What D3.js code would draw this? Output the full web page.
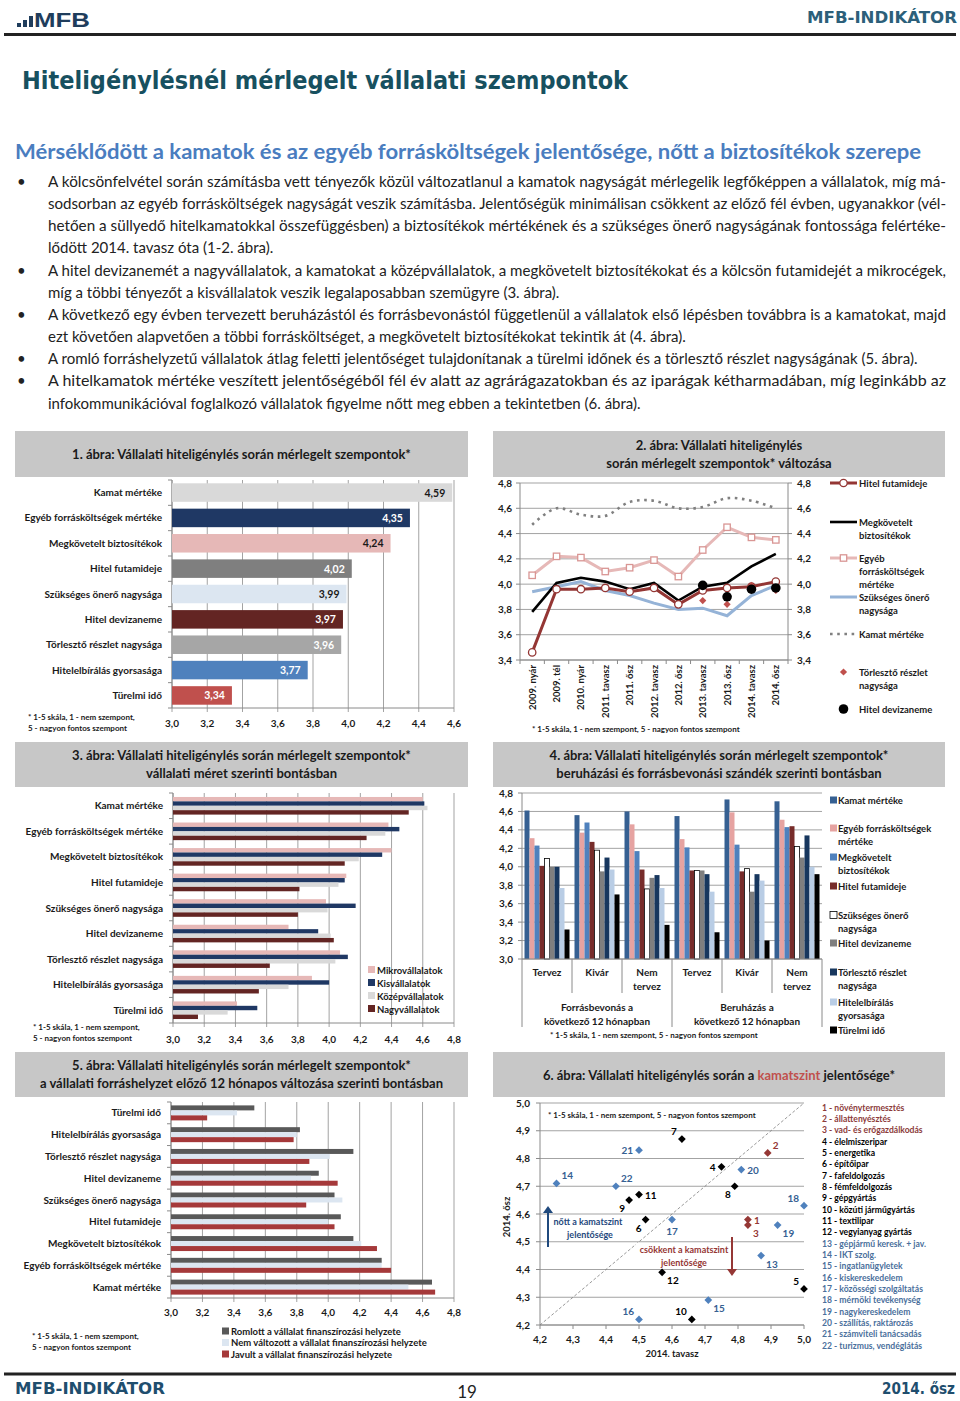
<!DOCTYPE html>
<html><head><meta charset="utf-8">
<script src="https://cdn.jsdelivr.net/npm/d3@7"></script>
<style>body{margin:0;background:#fff}svg{display:block}</style>
</head><body>
<svg id="page" width="960" height="1401"></svg>
<script>
// ---------------- DATA ----------------
const bodyLines = [
 {t:"A kölcsönfelvétel során számításba vett tényezők közül változatlanul a kamatok nagyságát mérlegelik legfőképpen a vállalatok, míg má-", bullet:true, justify:true},
 {t:"sodsorban az egyéb forrásköltségek nagyságát veszik számításba. Jelentőségük minimálisan csökkent az előző fél évben, ugyanakkor (vél-", justify:true},
 {t:"hetően a süllyedő hitelkamatokkal összefüggésben) a biztosítékok mértékének és a szükséges önerő nagyságának fontossága felértéke-", justify:true},
 {t:"lődött 2014. tavasz óta (1-2. ábra)."},
 {t:"A hitel devizanemét a nagyvállalatok, a kamatokat a középvállalatok, a megkövetelt biztosítékokat és a kölcsön futamidejét a mikrocégek,", bullet:true, justify:true},
 {t:"míg a többi tényezőt a kisvállalatok veszik legalaposabban szemügyre (3. ábra)."},
 {t:"A következő egy évben tervezett beruházástól és forrásbevonástól függetlenül a vállalatok első lépésben továbbra is a kamatokat, majd", bullet:true, justify:true},
 {t:"ezt követően alapvetően a többi forrásköltséget, a megkövetelt biztosítékokat tekintik át (4. ábra)."},
 {t:"A romló forráshelyzetű vállalatok átlag feletti jelentőséget tulajdonítanak a türelmi időnek és a törlesztő részlet nagyságának (5. ábra).", bullet:true},
 {t:"A hitelkamatok mértéke veszített jelentőségéből fél év alatt az agrárágazatokban és az iparágak kétharmadában, míg leginkább az", bullet:true, justify:true},
 {t:"infokommunikációval foglalkozó vállalatok figyelme nőtt meg ebben a tekintetben (6. ábra)."}
];

// Chart 1
const factors1 = ["Kamat mértéke","Egyéb forrásköltségek mértéke","Megkövetelt biztosítékok","Hitel futamideje","Szükséges önerő nagysága","Hitel devizaneme","Törlesztő részlet nagysága","Hitelelbírálás gyorsasága","Türelmi idő"];
const values1 = [4.59,4.35,4.24,4.02,3.99,3.97,3.96,3.77,3.34];
const ticks1 = [3.0,3.2,3.4,3.6,3.8,4.0,4.2,4.4,4.6];

// Chart 2
const periods2 = ["2009. nyár","2009. tél","2010. nyár","2011. tavasz","2011. ősz","2012. tavasz","2012. ősz","2013. tavasz","2013. ősz","2014. tavasz","2014. ősz"];
const futamideje2 = [3.46,3.96,3.96,3.97,3.94,3.97,3.84,3.95,3.97,3.98,4.02];
const biztositek2 = [3.78,4.01,4.05,4.02,3.96,4.01,3.87,3.98,4.01,4.14,4.24];
const egyeb2 = [4.07,4.22,4.21,4.10,4.13,4.19,4.06,4.27,4.45,4.37,4.35];
const onero2 = [3.94,3.98,4.02,3.95,3.91,3.85,3.80,3.81,3.75,3.91,3.99];
const kamat2 = [4.47,4.60,4.55,4.54,4.65,4.66,4.60,4.61,4.68,4.66,4.60];
const torleszto2 = [null,null,null,null,null,null,null,3.87,3.84,3.99,3.95];
const deviza2 = [null,null,null,null,null,null,null,3.99,3.90,3.96,3.97];
const ticks2 = [3.4,3.6,3.8,4.0,4.2,4.4,4.6,4.8];

// Chart 3
const series3 = ["Mikrovállalatok","Kisvállalatok","Középvállalatok","Nagyvállalatok"];
const mikro3 = [4.60,4.38,4.40,4.11,3.98,3.74,4.07,3.89,3.41];
const kis3 = [4.61,4.45,4.34,4.10,4.17,3.93,4.12,4.00,3.54];
const kozep3 = [4.63,4.36,4.19,4.06,3.99,4.01,4.04,3.74,3.35];
const nagy3 = [4.51,4.24,4.10,3.81,3.80,4.03,3.62,3.55,3.16];
const ticks3 = [3.0,3.2,3.4,3.6,3.8,4.0,4.2,4.4,4.6,4.8];

// Chart 4
const groups4 = ["Tervez","Kivár","Nem tervez","Tervez","Kivár","Nem tervez"];
const supergroups4 = ["Forrásbevonás a|következő 12 hónapban","Beruházás a|következő 12 hónapban"];
const kamat4 = [4.61,4.56,4.60,4.55,4.73,4.71];
const egyeb4 = [4.31,4.37,4.46,4.30,4.59,4.51];
const biztositek4 = [4.23,4.48,4.17,4.21,4.24,4.43];
const futamideje4 = [4.01,4.27,3.97,3.96,3.95,4.44];
const onero4 = [4.09,4.18,3.76,3.96,3.98,4.22];
const deviza4 = [4.00,3.95,3.88,3.96,3.73,4.10];
const torleszto4 = [4.00,4.10,3.91,3.92,3.92,4.34];
const hitelelb4 = [3.77,3.97,3.77,3.73,3.85,4.00];
const turelmi4 = [3.32,3.70,3.37,3.29,3.20,3.92];
const legend4 = ["Kamat mértéke","Egyéb forrásköltségek|mértéke","Megkövetelt|biztosítékok","Hitel futamideje","Szükséges önerő|nagysága","Hitel devizaneme","Törlesztő részlet|nagysága","Hitelelbírálás|gyorsasága","Türelmi idő"];
const ticks4 = [3.0,3.2,3.4,3.6,3.8,4.0,4.2,4.4,4.6,4.8];

// Chart 5
const factors5 = ["Türelmi idő","Hitelelbírálás gyorsasága","Törlesztő részlet nagysága","Hitel devizaneme","Szükséges önerő nagysága","Hitel futamideje","Megkövetelt biztosítékok","Egyéb forrásköltségek mértéke","Kamat mértéke"];
const series5 = ["Romlott a vállalat finanszírozási helyzete","Nem változott a vállalat finanszírozási helyzete","Javult a vállalat finanszírozási helyzete"];
const romlott5 = [3.53,3.82,4.16,3.94,4.04,4.08,4.16,4.34,4.66];
const nemvalt5 = [3.42,3.80,4.01,3.89,4.09,4.00,4.21,4.34,4.51];
const javult5 = [3.23,3.78,3.88,4.06,3.86,4.04,4.31,4.40,4.68];
const ticks5 = [3.0,3.2,3.4,3.6,3.8,4.0,4.2,4.4,4.6,4.8];

// Chart 6
const sectors6 = ["növénytermesztés","állattenyésztés","vad- és erőgazdálkodás","élelmiszeripar","energetika","építőipar","fafeldolgozás","fémfeldolgozás","gépgyártás","közúti járműgyártás","textilipar","vegyianyag gyártás","gépjármű keresk. + jav.","IKT szolg.","ingatlanügyletek","kiskereskedelem","közösségi szolgáltatás","mérnöki tevékenység","nagykereskedelem","szállítás, raktározás","számviteli tanácsadás","turizmus, vendéglátás"];
const sectorGroup6 = ["agrar","agrar","agrar","ipar","ipar","ipar","ipar","ipar","ipar","ipar","ipar","ipar","szolg","szolg","szolg","szolg","szolg","szolg","szolg","szolg","szolg","szolg"];
const spring6 = [4.83,4.89,4.83,4.75,5.00,4.52,4.63,4.79,4.47,4.66,4.50,4.57,4.87,4.25,4.71,4.50,4.60,5.00,4.92,4.81,4.50,4.43];
const autumn6 = [4.58,4.82,4.56,4.77,4.33,4.58,4.87,4.70,4.65,4.22,4.67,4.39,4.45,4.71,4.29,4.22,4.58,4.63,4.56,4.76,4.83,4.70];
const ticks6 = [4.2,4.3,4.4,4.5,4.6,4.7,4.8,4.9,5.0];

// ---------------- STYLE / LAYOUT ----------------
const svg = d3.select("#page");
const F = "Lato, Carlito, 'Open Sans', 'Noto Sans', sans-serif";
const FT = "'DejaVu Sans Condensed', 'DejaVu Sans', Verdana, sans-serif";
const GRID = "#a3a3a3", AXIS = "#8a8a8a", TXT = "#1a1a1a";
const c1 = d3.format(".1f"), c2 = d3.format(".2f");
const f1 = v => c1(v).replace(".", ","), f2 = v => c2(v).replace(".", ",");

svg.append("rect").attr("width",960).attr("height",1401).attr("fill","#fff");

function text(p, x, y, s, o = {}) {
  const t = p.append("text").attr("x", x).attr("y", y).text(s)
    .attr("font-family", o.family || F).attr("font-size", o.size || 10)
    .attr("font-weight", o.weight || "bold").attr("fill", o.fill || TXT)
    .attr("text-anchor", o.anchor || "start");
  if (o.len) t.attr("textLength", o.len).attr("lengthAdjust", o.adjust || "spacingAndGlyphs");
  if (o.dy) t.attr("dy", o.dy);
  return t;
}
function multi(p, x, y, s, lh, o) { s.split("|").forEach((l, i) => text(p, x, y + i * lh, l, o)); }
function titleBox(x0, x1, y0, y1, lines, ys) {
  svg.append("rect").attr("x", x0).attr("y", y0).attr("width", x1 - x0).attr("height", y1 - y0).attr("fill", "#c7c7c7");
  lines.forEach((l, i) => text(svg, (x0 + x1) / 2, ys[i], l, {size: 13, anchor: "middle"}));
}

// ---------------- HEADER ----------------
[[17,4],[23,7],[29,11]].forEach(([x,h]) => svg.append("rect").attr("x",x).attr("y",27-h).attr("width",4).attr("height",h).attr("fill","#1f3d5c"));
text(svg, 34, 27, "MFB", {family: "'Liberation Sans', Arial, sans-serif", size: 21, fill: "#1f3d5c", len: 56});
text(svg, 957, 23, "MFB-INDIKÁTOR", {family: FT, size: 15, fill: "#2c5f7a", anchor: "end", len: 150});
svg.append("line").attr("x1",4).attr("x2",956).attr("y1",34.5).attr("y2",34.5).attr("stroke","#222").attr("stroke-width",3);

text(svg, 22, 89, "Hiteligénylésnél mérlegelt vállalati szempontok", {family: FT, size: 25, fill: "#17505f", len: 606});
text(svg, 15, 159, "Mérséklődött a kamatok és az egyéb forrásköltségek jelentősége, nőtt a biztosítékok szerepe", {size: 21, fill: "#4a7dbf", len: 906});

// body
bodyLines.forEach((l, i) => {
  const y = 187 + i * 22.15;
  if (l.bullet) text(svg, 17, y, "•", {size: 15, weight: "normal", fill: "#222"});
  const t = text(svg, 48, y, l.t, {size: 15, weight: "normal", fill: "#222"});
  if (l.justify) t.attr("textLength", 898).attr("lengthAdjust", "spacingAndGlyphs");
});

// footer
svg.append("line").attr("x1",4).attr("x2",956).attr("y1",1374).attr("y2",1374).attr("stroke","#222").attr("stroke-width",3);
text(svg, 15, 1394, "MFB-INDIKÁTOR", {family: FT, size: 15, fill: "#1f4e6e", len: 150});
text(svg, 467, 1398, "19", {size: 17, weight: "normal", fill: "#222", anchor: "middle"});
text(svg, 955, 1394, "2014. ősz", {family: FT, size: 15, fill: "#1f4e6e", anchor: "end", len: 73});

// ---------------- CHART 1 ----------------
(function () {
  titleBox(15, 468, 431, 477, ["1. ábra: Vállalati hiteligénylés során mérlegelt szempontok*"], [459]);
  const g = svg.append("g");
  const x = d3.scaleLinear().domain([3, 4.6]).range([172, 454]);
  const y = d3.scaleBand().domain(factors1).range([480, 708]).paddingInner(0.27).paddingOuter(0.13);
  const colors = ["#d9d9d9","#1f3864","#e6b8b7","#7f7f7f","#dce6f1","#632523","#a6a6a6","#4f81bd","#c0504d"];
  const lblCol = ["#1a1a1a","#fff","#1a1a1a","#fff","#1a1a1a","#fff","#fff","#fff","#fff"];
  g.selectAll(".gr").data(ticks1).join("line").attr("x1", d => x(d)).attr("x2", d => x(d)).attr("y1", 480).attr("y2", 712).attr("stroke", GRID);
  g.append("line").attr("x1",172).attr("x2",454).attr("y1",708).attr("y2",708).attr("stroke",AXIS);
  g.append("line").attr("x1",172).attr("x2",172).attr("y1",480).attr("y2",708).attr("stroke",AXIS);
  d3.range(10).forEach(i => { const yy = 480 + i * (228 / 9); g.append("line").attr("x1",168).attr("x2",172).attr("y1",yy).attr("y2",yy).attr("stroke",AXIS); });
  g.selectAll(".bar").data(values1).join("rect").attr("x", x(3)).attr("y", (d, i) => y(factors1[i]))
    .attr("width", d => x(d) - x(3)).attr("height", y.bandwidth()).attr("fill", (d, i) => colors[i]);
  values1.forEach((v, i) => text(g, x(v) - 7, y(factors1[i]) + y.bandwidth() / 2 + 4, f2(v), {size: 10.5, anchor: "end", fill: lblCol[i]}));
  factors1.forEach(f => text(g, 162, y(f) + y.bandwidth() / 2 + 3.5, f, {size: 10, anchor: "end"}));
  ticks1.forEach(t => text(g, x(t), 727, f1(t), {size: 10, anchor: "middle"}));
  text(g, 28, 720, "* 1-5 skála,  1 - nem szempont,", {size: 8});
  text(g, 28, 731, "5 - nagyon fontos szempont", {size: 8});
})();

// ---------------- CHART 2 ----------------
(function () {
  titleBox(493, 945, 431, 477, ["2. ábra: Vállalati hiteligénylés", "során mérlegelt szempontok* változása"], [450, 468]);
  const g = svg.append("g");
  const x = d3.scaleBand().domain(periods2).range([520, 788]);
  const y = d3.scaleLinear().domain([3.4, 4.8]).range([660, 483]);
  const cx = p => x(p) + x.bandwidth() / 2;
  g.selectAll(".gr").data(ticks2).join("line").attr("x1", 520).attr("x2", 788).attr("y1", d => y(d)).attr("y2", d => y(d)).attr("stroke", GRID);
  g.append("line").attr("x1",520).attr("x2",520).attr("y1",483).attr("y2",660).attr("stroke",AXIS);
  g.append("line").attr("x1",788).attr("x2",788).attr("y1",483).attr("y2",660).attr("stroke",AXIS);
  g.append("line").attr("x1",520).attr("x2",788).attr("y1",660).attr("y2",660).attr("stroke",AXIS);
  ticks2.forEach(t => { g.append("line").attr("x1",516).attr("x2",520).attr("y1",y(t)).attr("y2",y(t)).attr("stroke",AXIS);
    g.append("line").attr("x1",788).attr("x2",792).attr("y1",y(t)).attr("y2",y(t)).attr("stroke",AXIS);
    text(g, 512, y(t) + 3.5, f1(t), {size: 10, anchor: "end"});
    text(g, 797, y(t) + 3.5, f1(t), {size: 10}); });
  d3.range(12).forEach(i => { const xx = 520 + i * x.step(); g.append("line").attr("x1",xx).attr("x2",xx).attr("y1",660).attr("y2",664).attr("stroke",AXIS); });
  periods2.forEach(p => text(g, 0, 0, p, {size: 9.5, anchor: "end"}).attr("transform", `translate(${cx(p) + 3.5},665) rotate(-90)`));
  text(g, 532, 732, "* 1-5 skála,  1 - nem szempont, 5 - nagyon fontos szempont", {size: 8});

  const line = d3.line().defined(d => d != null).x((d, i) => cx(periods2[i])).y(d => y(d));
  g.append("path").attr("d", line.curve(d3.curveCatmullRom.alpha(0.5))(kamat2)).attr("fill","none").attr("stroke","#808080").attr("stroke-width",2.6).attr("stroke-dasharray","2.6,4.6");
  line.curve(d3.curveLinear);
  g.append("path").attr("d", line(egyeb2)).attr("fill","none").attr("stroke","#e6b8b7").attr("stroke-width",3);
  g.append("path").attr("d", line(onero2)).attr("fill","none").attr("stroke","#95b3d7").attr("stroke-width",3);
  g.append("path").attr("d", line(biztositek2)).attr("fill","none").attr("stroke","#000").attr("stroke-width",2.6);
  g.append("path").attr("d", line(futamideje2)).attr("fill","none").attr("stroke","#943634").attr("stroke-width",3);
  egyeb2.forEach((v, i) => g.append("rect").attr("x", cx(periods2[i]) - 3.2).attr("y", y(v) - 3.2).attr("width", 6.4).attr("height", 6.4).attr("fill", "#fff").attr("stroke", "#d99694").attr("stroke-width", 1.3));
  futamideje2.forEach((v, i) => g.append("circle").attr("cx", cx(periods2[i])).attr("cy", y(v)).attr("r", 3.7).attr("fill", "#fff").attr("stroke", "#943634").attr("stroke-width", 1.3));
  const dia = d3.symbol(d3.symbolSquare, 26);
  torleszto2.forEach((v, i) => { if (v != null) g.append("path").attr("d", dia()).attr("transform", `translate(${cx(periods2[i])},${y(v)}) rotate(45)`).attr("fill", "#c0504d"); });
  deviza2.forEach((v, i) => { if (v != null) g.append("circle").attr("cx", cx(periods2[i])).attr("cy", y(v)).attr("r", 4.8).attr("fill", "#000"); });

  // legend
  const L = svg.append("g");
  L.append("line").attr("x1",830).attr("x2",857).attr("y1",483).attr("y2",483).attr("stroke","#943634").attr("stroke-width",3);
  L.append("circle").attr("cx",843.5).attr("cy",483).attr("r",3.7).attr("fill","#fff").attr("stroke","#943634").attr("stroke-width",1.3);
  multi(L, 859, 486.5, "Hitel futamideje", 13, {size: 9.5});
  L.append("line").attr("x1",830).attr("x2",857).attr("y1",522).attr("y2",522).attr("stroke","#000").attr("stroke-width",2.6);
  multi(L, 859, 525.5, "Megkövetelt|biztosítékok", 13, {size: 9.5});
  L.append("line").attr("x1",830).attr("x2",857).attr("y1",558).attr("y2",558).attr("stroke","#e6b8b7").attr("stroke-width",3);
  L.append("rect").attr("x",840.3).attr("y",554.8).attr("width",6.4).attr("height",6.4).attr("fill","#fff").attr("stroke","#d99694").attr("stroke-width",1.3);
  multi(L, 859, 561.5, "Egyéb|forrásköltségek|mértéke", 13, {size: 9.5});
  L.append("line").attr("x1",830).attr("x2",857).attr("y1",597).attr("y2",597).attr("stroke","#95b3d7").attr("stroke-width",3);
  multi(L, 859, 600.5, "Szükséges önerő|nagysága", 13, {size: 9.5});
  L.append("line").attr("x1",830).attr("x2",857).attr("y1",634).attr("y2",634).attr("stroke","#808080").attr("stroke-width",2.6).attr("stroke-dasharray","2.6,4.6");
  multi(L, 859, 637.5, "Kamat mértéke", 13, {size: 9.5});
  L.append("path").attr("d", dia()).attr("transform","translate(843.5,672) rotate(45)").attr("fill","#c0504d");
  multi(L, 859, 675.5, "Törlesztő részlet|nagysága", 13, {size: 9.5});
  L.append("circle").attr("cx",843.5).attr("cy",709).attr("r",4.8).attr("fill","#000");
  multi(L, 859, 712.5, "Hitel devizaneme", 13, {size: 9.5});
})();

// ---------------- CHART 3 ----------------
(function () {
  titleBox(15, 468, 742, 787, ["3. ábra: Vállalati hiteligénylés során mérlegelt szempontok*", "vállalati méret szerinti bontásban"], [760, 778]);
  const g = svg.append("g");
  const x = d3.scaleLinear().domain([3, 4.8]).range([173, 454]);
  const y = d3.scaleBand().domain(factors1).range([793, 1023]);
  const yi = d3.scaleBand().domain(series3).range([0, y.bandwidth()]).paddingOuter(0.9);
  const cols = ["#e6b8b7","#1f3864","#d9d9d9","#632523"];
  const data = [mikro3, kis3, kozep3, nagy3];
  g.selectAll(".gr").data(ticks3).join("line").attr("x1", d => x(d)).attr("x2", d => x(d)).attr("y1", 793).attr("y2", 1027).attr("stroke", GRID);
  g.append("line").attr("x1",173).attr("x2",454).attr("y1",1023).attr("y2",1023).attr("stroke",AXIS);
  g.append("line").attr("x1",173).attr("x2",173).attr("y1",793).attr("y2",1023).attr("stroke",AXIS);
  d3.range(10).forEach(i => { const yy = 793 + i * y.step(); g.append("line").attr("x1",169).attr("x2",173).attr("y1",yy).attr("y2",yy).attr("stroke",AXIS); });
  data.forEach((arr, s) => arr.forEach((v, i) => g.append("rect").attr("x", x(3)).attr("y", y(factors1[i]) + yi(series3[s]))
    .attr("width", x(v) - x(3)).attr("height", yi.bandwidth()).attr("fill", cols[s])));
  factors1.forEach(f => text(g, 163, y(f) + y.bandwidth() / 2 + 3.5, f, {size: 10, anchor: "end"}));
  ticks3.forEach(t => text(g, x(t), 1043, f1(t), {size: 10, anchor: "middle"}));
  text(g, 33, 1030, "* 1-5 skála,  1 - nem szempont,", {size: 8});
  text(g, 33, 1041, "5 - nagyon fontos szempont", {size: 8});
  series3.forEach((s, i) => { g.append("rect").attr("x", 368).attr("y", 966 + i * 13).attr("width", 7).attr("height", 7).attr("fill", cols[i]);
    text(g, 377, 973.5 + i * 13, s, {size: 9.5}); });
})();

// ---------------- CHART 4 ----------------
(function () {
  titleBox(493, 945, 742, 787, ["4. ábra: Vállalati hiteligénylés során mérlegelt szempontok*", "beruházási és forrásbevonási szándék szerinti bontásban"], [760, 778]);
  const g = svg.append("g");
  const gi = d3.range(6);
  const x = d3.scaleBand().domain(gi).range([522, 822]);
  const xi = d3.scaleBand().domain(d3.range(9)).range([0, x.bandwidth()]).paddingOuter(0.5);
  const y = d3.scaleLinear().domain([3, 4.8]).range([959, 793]);
  const series = [kamat4, egyeb4, biztositek4, futamideje4, onero4, deviza4, torleszto4, hitelelb4, turelmi4];
  const cols = ["#366092","#e6a3a1","#4f81bd","#772c2a","#fff","#7f7f7f","#17375e","#b9cde5","#000"];
  g.selectAll(".gr").data(ticks4).join("line").attr("x1", 522).attr("x2", 822).attr("y1", d => y(d)).attr("y2", d => y(d)).attr("stroke", GRID);
  g.append("line").attr("x1",522).attr("x2",522).attr("y1",793).attr("y2",959).attr("stroke",AXIS);
  ticks4.forEach(t => { g.append("line").attr("x1",518).attr("x2",522).attr("y1",y(t)).attr("y2",y(t)).attr("stroke",AXIS);
    text(g, 513, y(t) + 3.5, f1(t), {size: 10, anchor: "end"}); });
  series.forEach((arr, s) => arr.forEach((v, i) => g.append("rect").attr("x", x(i) + xi(s)).attr("y", y(v))
    .attr("width", xi.bandwidth()).attr("height", y(3) - y(v)).attr("fill", cols[s])
    .attr("stroke", s === 4 ? "#000" : "none").attr("stroke-width", 0.8)));
  g.append("line").attr("x1",522).attr("x2",822).attr("y1",959).attr("y2",959).attr("stroke",AXIS);
  d3.range(7).forEach(i => { const xx = 522 + i * x.step(); g.append("line").attr("x1",xx).attr("x2",xx).attr("y1",959).attr("y2", i % 3 === 0 ? 1027 : 993).attr("stroke",AXIS); });
  groups4.forEach((gname, i) => { const cxx = x(i) + x.bandwidth() / 2;
    const parts = gname.split(" ");
    if (parts.length === 1) text(g, cxx, 976, gname, {size: 10, anchor: "middle"});
    else { text(g, cxx, 976, parts[0], {size: 10, anchor: "middle"}); text(g, cxx, 990, parts[1], {size: 10, anchor: "middle"}); } });
  supergroups4.forEach((s, i) => multi(g, 522 + 75 + i * 150, 1011, s, 13.5, {size: 10, anchor: "middle"}));
  text(g, 550, 1038, "* 1-5 skála, 1 - nem szempont, 5 - nagyon fontos szempont", {size: 8});
  const ly = [800, 828, 857, 886, 915, 943, 972, 1002, 1030];
  legend4.forEach((s, i) => { g.append("rect").attr("x", 830).attr("y", ly[i] - 3.5).attr("width", 7).attr("height", 7).attr("fill", cols[i]).attr("stroke", i === 4 ? "#000" : "none").attr("stroke-width", 0.8);
    multi(g, 838, ly[i] + 3.5, s, 13.5, {size: 9.5}); });
})();

// ---------------- CHART 5 ----------------
(function () {
  titleBox(15, 468, 1052, 1097, ["5. ábra: Vállalati hiteligénylés során mérlegelt szempontok*", "a vállalati forráshelyzet előző 12 hónapos változása szerinti bontásban"], [1070, 1088]);
  const g = svg.append("g");
  const x = d3.scaleLinear().domain([3, 4.8]).range([171, 454]);
  const y = d3.scaleBand().domain(factors5).range([1102, 1298]);
  const yi = d3.scaleBand().domain(series5).range([0, y.bandwidth()]).paddingOuter(0.68);
  const cols = ["#595959","#dce6f1","#a5393a"];
  const data = [romlott5, nemvalt5, javult5];
  g.selectAll(".gr").data(ticks5).join("line").attr("x1", d => x(d)).attr("x2", d => x(d)).attr("y1", 1102).attr("y2", 1302).attr("stroke", GRID);
  g.append("line").attr("x1",171).attr("x2",454).attr("y1",1298).attr("y2",1298).attr("stroke",AXIS);
  g.append("line").attr("x1",171).attr("x2",171).attr("y1",1102).attr("y2",1298).attr("stroke",AXIS);
  d3.range(10).forEach(i => { const yy = 1102 + i * y.step(); g.append("line").attr("x1",167).attr("x2",171).attr("y1",yy).attr("y2",yy).attr("stroke",AXIS); });
  data.forEach((arr, s) => arr.forEach((v, i) => g.append("rect").attr("x", x(3)).attr("y", y(factors5[i]) + yi(series5[s]))
    .attr("width", x(v) - x(3)).attr("height", yi.bandwidth()).attr("fill", cols[s])));
  factors5.forEach(f => text(g, 161, y(f) + y.bandwidth() / 2 + 3.5, f, {size: 10, anchor: "end"}));
  ticks5.forEach(t => text(g, x(t), 1316, f1(t), {size: 10, anchor: "middle"}));
  text(g, 32, 1339, "* 1-5 skála, 1 - nem szempont,", {size: 8});
  text(g, 32, 1350, "5 - nagyon fontos szempont", {size: 8});
  series5.forEach((s, i) => { g.append("rect").attr("x", 222).attr("y", 1327.5 + i * 11.5).attr("width", 7).attr("height", 7).attr("fill", cols[i]);
    text(g, 231, 1334.5 + i * 11.5, s, {size: 9.5}); });
})();

// ---------------- CHART 6 ----------------
(function () {
  svg.append("rect").attr("x", 493).attr("y", 1052).attr("width", 452).attr("height", 45).attr("fill", "#c7c7c7");
  const tt = text(svg, 719, 1080, "", {size: 13, anchor: "middle"});
  tt.append("tspan").text("6. ábra: Vállalati hiteligénylés során a ");
  tt.append("tspan").text("kamatszint").attr("fill", "#c0504d");
  tt.append("tspan").text(" jelentősége*");
  const g = svg.append("g");
  const x = d3.scaleLinear().domain([4.2, 5.0]).range([540, 804]);
  const y = d3.scaleLinear().domain([4.2, 5.0]).range([1325, 1103]);
  g.selectAll(".gr").data(ticks6).join("line").attr("x1", 540).attr("x2", 804).attr("y1", d => y(d)).attr("y2", d => y(d)).attr("stroke", GRID);
  g.append("line").attr("x1",540).attr("x2",540).attr("y1",1103).attr("y2",1325).attr("stroke",AXIS);
  g.append("line").attr("x1",540).attr("x2",804).attr("y1",1325).attr("y2",1325).attr("stroke",AXIS);
  ticks6.forEach(t => { g.append("line").attr("x1",536).attr("x2",540).attr("y1",y(t)).attr("y2",y(t)).attr("stroke",AXIS);
    g.append("line").attr("x1",x(t)).attr("x2",x(t)).attr("y1",1325).attr("y2",1329).attr("stroke",AXIS);
    text(g, 530, y(t) + 3.5, f1(t), {size: 10, anchor: "end"});
    text(g, x(t), 1343, f1(t), {size: 10, anchor: "middle"}); });
  text(g, 672, 1357, "2014. tavasz", {size: 9.5, anchor: "middle"});
  text(g, 0, 0, "2014. ősz", {size: 9.5, anchor: "middle"}).attr("transform", "translate(510,1217) rotate(-90)");
  g.append("line").attr("x1", x(4.2)).attr("y1", y(4.2)).attr("x2", x(5.0)).attr("y2", y(5.0)).attr("stroke", "#7f7f7f").attr("stroke-width", 0.8).attr("stroke-dasharray", "3,2");
  text(g, 548, 1118, "* 1-5 skála, 1 - nem szempont, 5 - nagyon fontos szempont", {size: 8});
  // arrows
  g.append("line").attr("x1",548).attr("x2",548).attr("y1",1247).attr("y2",1212).attr("stroke","#1f497d").attr("stroke-width",2);
  g.append("path").attr("d","M543,1213 L548,1206 L553,1213 Z").attr("fill","#1f497d");
  text(g, 588, 1225, "nőtt a kamatszint", {size: 9, anchor: "middle", fill: "#1f497d"});
  text(g, 590, 1238, "jelentősége", {size: 9, anchor: "middle", fill: "#1f497d"});
  g.append("rect").attr("x", 636).attr("y", 1243).attr("width", 96).attr("height", 25).attr("fill", "#fff");
  g.append("line").attr("x1",732).attr("x2",732).attr("y1",1237).attr("y2",1270).attr("stroke","#953735").attr("stroke-width",2);
  g.append("path").attr("d","M727,1269 L732,1276 L737,1269 Z").attr("fill","#953735");
  text(g, 684, 1253, "csökkent a kamatszint", {size: 9, anchor: "middle", fill: "#953735"});
  text(g, 684, 1266, "jelentősége", {size: 9, anchor: "middle", fill: "#953735"});
  const pcol = {agrar: "#953735", ipar: "#000", szolg: "#4f81bd"};
  const lcol = {agrar: "#953735", ipar: "#000", szolg: "#366092"};
  const dia = d3.symbol(d3.symbolSquare, 30);
  // label placement relative to marker
  const place = {1:"r",2:"ru",3:"rd",4:"l",5:"lu",6:"ld",7:"lu",8:"ld",9:"ld",10:"lu",11:"r",12:"rd",13:"rd",14:"ru",15:"rd",16:"lu",17:"d",18:"lu",19:"rd",20:"r",21:"l",22:"ru"};
  const off = {r:[6,4,"start"], ru:[5,-4,"start"], rd:[5,12,"start"], l:[-6,4,"end"], lu:[-5,-4,"end"], ld:[-4,12,"end"], d:[0,15,"middle"]};
  sectors6.forEach((s, i) => {
    const px = x(spring6[i]), py = y(autumn6[i]);
    g.append("path").attr("d", dia()).attr("transform", `translate(${px},${py}) rotate(45)`).attr("fill", pcol[sectorGroup6[i]]);
    const o = off[place[i + 1]];
    text(g, px + o[0], py + o[1], String(i + 1), {size: 10, anchor: o[2], fill: lcol[sectorGroup6[i]]});
  });
  const tcol = {agrar: "#8c3b3a", ipar: "#000", szolg: "#4a6f9c"};
  sectors6.forEach((s, i) => text(svg, 822, 1110.7 + i * 11.33, `${i + 1} - ${i === 0 ? " " : ""}${s}`, {size: 8.6, fill: tcol[sectorGroup6[i]]}));
})();
</script>
</body></html>
